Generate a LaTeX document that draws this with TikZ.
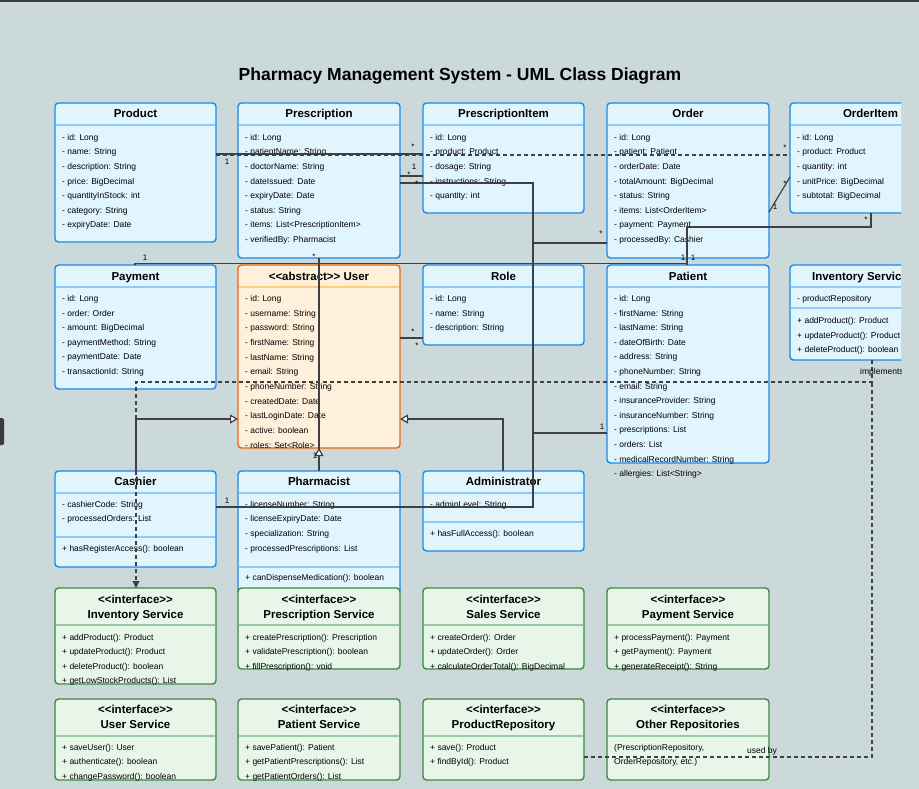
\documentclass[tikz,border=0pt]{standalone}
\usepackage{fontspec}
\setmainfont{Liberation Sans}[Ligatures=TeXOff]
\usetikzlibrary{arrows.meta,calc}
\definecolor{bgc}{HTML}{CBD9DA}
\definecolor{topc}{HTML}{3A3A3A}
\definecolor{clsfill}{HTML}{E1F5FE}
\definecolor{clsdraw}{HTML}{1E88E5}
\definecolor{clssepc}{HTML}{90CAF9}
\definecolor{absfill}{HTML}{FFF0DC}
\definecolor{absdraw}{HTML}{E8650F}
\definecolor{abssepc}{HTML}{FFCC80}
\definecolor{iffill}{HTML}{E8F5E9}
\definecolor{ifdraw}{HTML}{3B8A40}
\definecolor{ifsepc}{HTML}{9CC9A4}
\definecolor{connc}{HTML}{404040}
\tikzset{
  basebox/.style={rounded corners=3.5pt, line width=1.4pt, inner sep=0pt, outer sep=0pt, anchor=north west},
  clsbox/.style={basebox, draw=clsdraw, fill=clsfill},
  absbox/.style={basebox, draw=absdraw, fill=absfill},
  ifbox/.style={basebox, draw=ifdraw, fill=iffill},
  clssep/.style={draw=clssepc, line width=1.3pt},
  abssep/.style={draw=abssepc, line width=1.3pt},
  ifsep/.style={draw=ifsepc, line width=1.3pt},
  namefont/.style={font=\fontsize{11.5}{13}\selectfont\bfseries, inner sep=0pt, anchor=base},
  rowfont/.style={font=\fontsize{8.5}{10}\selectfont, inner sep=0pt, anchor=base west},
  mult/.style={font=\fontsize{8}{9}\selectfont, inner sep=0pt},
  starlbl/.style={mult, yshift=-1.7pt},
  conn/.style={draw=connc, line width=1.2pt},
  dconn/.style={conn, dash pattern=on 4pt off 3pt},
  gen/.style={conn, -{Triangle[length=8pt, width=9pt, fill=white]}},
  impl/.style={dconn, -{Triangle[length=7pt, width=7pt, fill=connc]}},
}
\newcommand\umlbox[7]{%
  \node[#2box, minimum width={#5-#3}, minimum height={#6-#4}] (#1) at (#3,#4) {};
  \draw[#2sep] (#3+0.8,#7) -- (#5-0.8,#7);}
\newcommand\umlname[4]{\node[namefont] at ({(#1+#2)/2},#3) {#4};}
\newcommand\ifname[4]{\node[namefont] at ({(#1+#2)/2},#3) {<<interface>>};
  \node[namefont] at ({(#1+#2)/2},#3+15) {#4};}
\newcommand\umlrows[4]{%
  \foreach \rowtxt [count=\rowi from 0] in {#4} {\node[rowfont] at ({#1+7},{#2+\rowi*#3}) {\rowtxt};}}
\begin{document}
\begin{tikzpicture}[x=1pt,y=-1pt]
\useasboundingbox (0,0) rectangle (919,789);
\fill[bgc] (0,0) rectangle (919,789);
\fill[topc] (0,0) rectangle (919,2.5);
\fill[topc, rounded corners=1.5pt] (-3,418) rectangle (4,445);
\begin{scope}
\clip (0,0) rectangle (901,789);
\node[font=\fontsize{17.5}{20}\selectfont\bfseries, inner sep=0pt, anchor=base] (title) at (460,81) {Pharmacy Management System - UML Class Diagram};

% ---------- Row 1
\umlbox{product}{cls}{55}{103}{216}{242}{125}
\umlname{55}{216}{118}{Product}
\umlrows{55}{140.3}{14.6}{- id: Long, - name: String, - description: String, - price: BigDecimal, - quantityInStock: int, - category: String, - expiryDate: Date}

\umlbox{prescription}{cls}{238}{103}{400}{258}{125}
\umlname{238}{400}{118}{Prescription}
\umlrows{238}{140.3}{14.6}{- id: Long, - patientName: String, - doctorName: String, - dateIssued: Date, - expiryDate: Date, - status: String, - items: List<PrescriptionItem>, - verifiedBy: Pharmacist}

\umlbox{presitem}{cls}{423}{103}{584}{213}{125}
\umlname{423}{584}{118}{PrescriptionItem}
\umlrows{423}{140.3}{14.6}{- id: Long, - product: Product, - dosage: String, - instructions: String, - quantity: int}

\umlbox{order}{cls}{607}{103}{769}{258}{125}
\umlname{607}{769}{118}{Order}
\umlrows{607}{140.3}{14.6}{- id: Long, - patient: Patient, - orderDate: Date, - totalAmount: BigDecimal, - status: String, - items: List<OrderItem>, - payment: Payment, - processedBy: Cashier}

\umlbox{orderitem}{cls}{790}{103}{951}{213}{125}
\umlname{790}{951}{118}{OrderItem}
\umlrows{790}{140.3}{14.6}{- id: Long, - product: Product, - quantity: int, - unitPrice: BigDecimal, - subtotal: BigDecimal}

% ---------- Row 2
\umlbox{payment}{cls}{55}{265}{216}{389}{287}
\umlname{55}{216}{280}{Payment}
\umlrows{55}{301.5}{14.6}{- id: Long, - order: Order, - amount: BigDecimal, - paymentMethod: String, - paymentDate: Date, - transactionId: String}

\umlbox{user}{abs}{238}{265}{400}{448}{287}
\umlname{238}{400}{280}{<<abstract>> User}
\umlrows{238}{301.5}{14.68}{- id: Long, - username: String, - password: String, - firstName: String, - lastName: String, - email: String, - phoneNumber: String, - createdDate: Date, - lastLoginDate: Date, - active: boolean, - roles: Set<Role>}

\umlbox{role}{cls}{423}{265}{584}{345}{287}
\umlname{423}{584}{280}{Role}
\umlrows{423}{301.5}{14.6}{- id: Long, - name: String, - description: String}

\umlbox{patient}{cls}{607}{265}{769}{463}{287}
\umlname{607}{769}{280}{Patient}
\umlrows{607}{301.5}{14.6}{- id: Long, - firstName: String, - lastName: String, - dateOfBirth: Date, - address: String, - phoneNumber: String, - email: String, - insuranceProvider: String, - insuranceNumber: String, - prescriptions: List, - orders: List, - medicalRecordNumber: String, - allergies: List<String>}

\umlbox{invcls}{cls}{790}{265}{930}{360}{287}
\umlname{790}{930}{280}{Inventory Service}
\node[rowfont] at (797,301.5) {- productRepository};
\draw[clssep] (790.8,308) -- (929.2,308);
\umlrows{790}{323.3}{14.8}{+ addProduct(): Product, + updateProduct(): Product, + deleteProduct(): boolean}

% ---------- Row 3
\umlbox{cashier}{cls}{55}{471}{216}{567}{493}
\umlname{55}{216}{485.7}{Cashier}
\umlrows{55}{507.3}{14.6}{- cashierCode: String, - processedOrders: List}
\draw[clssep] (55.8,537) -- (215.2,537);
\node[rowfont] at (62,551.7) {+ hasRegisterAccess(): boolean};

\umlbox{pharmacist}{cls}{238}{471}{400}{594}{493}
\umlname{238}{400}{485.7}{Pharmacist}
\umlrows{238}{507.3}{14.6}{- licenseNumber: String, - licenseExpiryDate: Date, - specialization: String, - processedPrescriptions: List}
\draw[clssep] (238.8,567) -- (399.2,567);
\node[rowfont] at (245,580) {+ canDispenseMedication(): boolean};

\umlbox{admin}{cls}{423}{471}{584}{551}{493}
\umlname{423}{584}{485.7}{Administrator}
\node[rowfont] at (430,507.3) {- adminLevel: String};
\draw[clssep] (423.8,522) -- (583.2,522);
\node[rowfont] at (430,536) {+ hasFullAccess(): boolean};

% ---------- Row 4 (interfaces)
\umlbox{invsvc}{if}{55}{588}{216}{684}{625}
\ifname{55}{216}{603}{Inventory Service}
\umlrows{55}{640}{14.5}{+ addProduct(): Product, + updateProduct(): Product, + deleteProduct(): boolean, + getLowStockProducts(): List}

\umlbox{presvc}{if}{238}{588}{400}{669}{625}
\ifname{238}{400}{603}{Prescription Service}
\umlrows{238}{640}{14.5}{+ createPrescription(): Prescription, + validatePrescription(): boolean, + fillPrescription(): void}

\umlbox{salessvc}{if}{423}{588}{584}{669}{625}
\ifname{423}{584}{603}{Sales Service}
\umlrows{423}{640}{14.5}{+ createOrder(): Order, + updateOrder(): Order, + calculateOrderTotal(): BigDecimal}

\umlbox{paysvc}{if}{607}{588}{769}{669}{625}
\ifname{607}{769}{603}{Payment Service}
\umlrows{607}{640}{14.5}{+ processPayment(): Payment, + getPayment(): Payment, + generateReceipt(): String}

% ---------- Row 5
\umlbox{usersvc}{if}{55}{699}{216}{780}{736}
\ifname{55}{216}{713}{User Service}
\umlrows{55}{750}{14.6}{+ saveUser(): User, + authenticate(): boolean, + changePassword(): boolean}

\umlbox{patsvc}{if}{238}{699}{400}{780}{736}
\ifname{238}{400}{713}{Patient Service}
\umlrows{238}{750}{14.6}{+ savePatient(): Patient, + getPatientPrescriptions(): List, + getPatientOrders(): List}

\umlbox{prodrepo}{if}{423}{699}{584}{780}{736}
\ifname{423}{584}{713}{ProductRepository}
\umlrows{423}{750}{14.6}{+ save(): Product, + findById(): Product}

\umlbox{otherrepo}{if}{607}{699}{769}{780}{736}
\ifname{607}{769}{713}{Other Repositories}
\umlrows{607}{750}{14.6}{{(PrescriptionRepository,},{OrderRepository, etc.)}}

% ---------- Connectors
\coordinate (junc) at (872,382);
\draw[dconn] (product.east |- 0,155) -- (orderitem.west |- 0,155);
\draw[conn] (product.east |- 0,154) -- (presitem.west |- 0,154);
\draw[conn] (prescription.east |- 0,176) -- (presitem.west |- 0,176);
\draw[conn] (prescription.east |- 0,183) -- (533,183) -- (533,433) -- (patient.west |- 0,433);
\draw[conn] (order.west |- 0,243) -- (533,243) -- (533,507) -- (cashier.east |- 0,507);
\draw[conn] (order.east |- 0,212) -- (orderitem.west |- 0,177);
\draw[conn] (orderitem.south -| 871,0) -- (871,227) -- (687,227) -- (patient.north -| 687,0);
\draw[conn] (payment.north -| 135,0) -- ++(0,-1.5) -- ($(patient.north -| 687,0)+(0,-1.5)$);
\draw[conn] (prescription.south -| 319,0) -- (pharmacist.north -| 319,0);
\draw[gen] (pharmacist.north -| 319,0) -- (user.south -| 319,0);
\draw[gen] (cashier.north -| 136,0) |- (user.west |- 0,419);
\draw[gen] (admin.north -| 503,0) |- (user.east |- 0,419);
\draw[conn] (user.east |- 0,338) -- (role.west |- 0,338);
\draw[impl] (invcls.south -| 872,0) -- (junc) -- (136,382) -- (invsvc.north -| 136,0);
\draw[dconn] (prodrepo.east |- 0,757) -- (872,757) -- (junc);

% ---------- Multiplicities and labels
\node[mult] at (227,162) {1};
\node[starlbl] at (413,145) {*};
\node[mult] at (414,167) {1};
\node[starlbl] at (409,173) {*};
\node[starlbl] at (417,182) {*};
\node[starlbl] at (601,232) {*};
\node[starlbl] at (785,146) {*};
\node[starlbl] at (785,182) {*};
\node[mult] at (775,207) {1};
\node[starlbl] at (866,218) {*};
\node[mult] at (683,258) {1};
\node[mult] at (693,258) {1};
\node[mult] at (145,258) {1};
\node[starlbl] at (314,255) {*};
\node[starlbl] at (413,330) {*};
\node[starlbl] at (417,344) {*};
\node[mult] at (315,456) {1};
\node[mult] at (602,427) {1};
\node[mult] at (227,501) {1};
\node[rowfont, anchor=west] at (860,372) {implements};
\node[rowfont, anchor=center] at (762,751) {used by};
\end{scope}
\end{tikzpicture}
\end{document}
